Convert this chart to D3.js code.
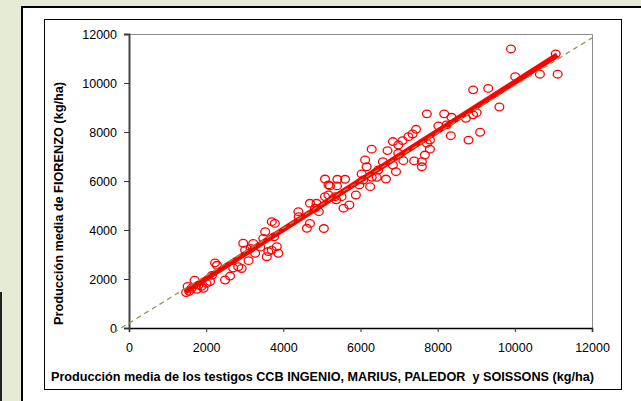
<!DOCTYPE html>
<html>
<head>
<meta charset="utf-8">
<script src="https://cdn.jsdelivr.net/npm/d3@7"></script>
<style>
  body { margin: 0; background: #e5ebd5; }
  svg { display: block; font-family: Arial, "Liberation Sans", sans-serif; }
</style>
</head>
<body>
<div id="chart"></div>
<script>
// Producción media de los testigos (eje X) y de FIORENZO (eje Y), kg/ha
var testigos = [1480, 1520, 1560, 1620, 1700, 1760, 1800, 1880, 1930, 2010, 2100, 2150, 2230, 2280, 2490,
                2620, 2700, 2830, 2920, 2960, 3010, 3100, 3150, 3220, 3270, 3400, 3480, 3530, 3570, 3610,
                3700, 3700, 3780, 3830, 3870, 3760, 4390, 4400, 4610, 4690, 4690, 4820, 4860, 4920, 5050,
                5080, 5170, 5080, 5170, 5210, 5340, 5370, 5390, 5400, 5510, 5560, 5600, 5710, 5880, 5970,
                6030, 6070, 6120, 6160, 6250, 6290, 6290, 6420, 6460, 6580, 6660, 6700, 6840, 6840, 6920,
                6980, 6980, 7090, 7110, 7240, 7350, 7390, 7440, 7590, 7590, 7670, 7720, 7720, 7800, 7800,
                8020, 8170, 8230, 8340, 8360, 8730, 8800, 8920, 9010, 8920, 9100, 9310, 9600, 9900, 10010,
                10650, 11060, 11110];
var fiorenzo = [1450, 1700, 1500, 1620, 1950, 1580, 1750, 1700, 1620, 1820, 1900, 2150, 2660, 2560, 1960,
                2120, 2450, 2500, 2430, 3460, 3180, 2750, 3250, 3450, 3050, 3300, 3660, 3930, 2910, 3120,
                4340, 3180, 4270, 3320, 3050, 3720, 4750, 4540, 4070, 4270, 5090, 4890, 5090, 4750, 4060,
                6080, 5840, 5360, 5430, 5800, 5360, 5230, 5800, 6070, 5360, 4890, 6070, 5020, 5430, 5840,
                6290, 6040, 6860, 6580, 5770, 7300, 6150, 6150, 6450, 6790, 6080, 7240, 7610, 6650, 6380,
                7470, 7130, 7650, 6830, 7810, 7920, 6820, 8110, 6790, 6580, 7060, 7540, 8740, 7300, 7670,
                8250, 8740, 8290, 7850, 8600, 8560, 7670, 8700, 8790, 9720, 7990, 9780, 9020, 11390, 10260,
                10360, 11190, 10360];

// recta de ajuste (roja) y recta de tendencia extendida (discontinua)
var ajusteX = [1450, 11100];
var ajusteY = [1470, 11140];
var tendenciaX = [-400, 12000];
var tendenciaY = [-190, 11840];

var ticksX = [0, 2000, 4000, 6000, 8000, 10000, 12000];
var ticksY = [0, 2000, 4000, 6000, 8000, 10000, 12000];

var W = 641, H = 401;
var plot = {left: 129, right: 592, top: 34, bottom: 328};

var svg = d3.select("#chart").append("svg")
    .attr("width", W)
    .attr("height", H);

// marcos
svg.append("rect")
    .attr("x", 22).attr("y", 7)
    .attr("width", 640).attr("height", 420)
    .attr("fill", "#fff")
    .attr("stroke", "#000")
    .attr("stroke-width", 2);
svg.append("line")
    .attr("x1", 1).attr("x2", 1).attr("y1", 292).attr("y2", H)
    .attr("stroke", "#222").attr("stroke-width", 2);
svg.append("rect")
    .attr("x", 44.5).attr("y", 19.5)
    .attr("width", 577).attr("height", 370)
    .attr("fill", "none")
    .attr("stroke", "#000");

var x = d3.scaleLinear().domain([0, 12000]).range([plot.left, plot.right]);
var y = d3.scaleLinear().domain([0, 12000]).range([plot.bottom, plot.top]);

// borde del área de trazado
svg.append("path")
    .attr("d", "M" + plot.left + "," + (plot.top + 0.5) + "H" + (plot.right + 0.5) + "V" + plot.bottom)
    .attr("fill", "none")
    .attr("stroke", "#8c8c8c");

// ejes
var ejeX = svg.append("g")
    .attr("transform", "translate(0," + plot.bottom + ")")
    .call(d3.axisBottom(x).tickValues(ticksX).tickSize(4).tickPadding(11).tickFormat(d3.format("d")));
ejeX.select(".domain").attr("stroke", "#000").attr("stroke-width", 1.5);

var ejeY = svg.append("g")
    .attr("transform", "translate(" + plot.left + ",0)")
    .call(d3.axisLeft(y).tickValues(ticksY).tickSize(5).tickPadding(7).tickFormat(d3.format("d")));
ejeY.select(".domain").attr("stroke", "#444").attr("stroke-width", 2);

svg.selectAll(".tick line").attr("stroke", "#333");
svg.selectAll(".tick text")
    .attr("font-family", "Arial, 'Liberation Sans', sans-serif")
    .attr("font-size", 12.5)
    .attr("fill", "#000");

// puntos
var puntos = d3.zip(testigos, fiorenzo);
svg.append("g").selectAll("ellipse")
    .data(puntos)
    .enter().append("ellipse")
    .attr("cx", function(d) { return x(d[0]); })
    .attr("cy", function(d) { return y(d[1]); })
    .attr("rx", 4.4)
    .attr("ry", 3.8)
    .attr("fill", "none")
    .attr("stroke", "#ff0000")
    .attr("stroke-width", 1.3);

// recta roja
svg.append("line")
    .attr("x1", x(ajusteX[0])).attr("y1", y(ajusteY[0]))
    .attr("x2", x(ajusteX[1])).attr("y2", y(ajusteY[1]))
    .attr("stroke", "#ff0000")
    .attr("stroke-width", 5.5);

// recta discontinua
svg.append("line")
    .attr("x1", x(tendenciaX[0])).attr("y1", y(tendenciaY[0]))
    .attr("x2", x(tendenciaX[1])).attr("y2", y(tendenciaY[1]))
    .attr("stroke", "#8a9a4a")
    .attr("stroke-width", 1.3)
    .attr("stroke-dasharray", "5,4");

// títulos
svg.append("text")
    .attr("x", 51).attr("y", 381)
    .attr("font-size", 12).attr("font-weight", "bold")
    .attr("textLength", 543).attr("lengthAdjust", "spacingAndGlyphs")
    .text("Producción media de los testigos CCB INGENIO, MARIUS, PALEDOR\u00a0 y SOISSONS (kg/ha)");

svg.append("text")
    .attr("transform", "translate(63,325) rotate(-90)")
    .attr("font-size", 12).attr("font-weight", "bold")
    .attr("textLength", 243).attr("lengthAdjust", "spacingAndGlyphs")
    .text("Producción media de FIORENZO (kg/ha)");
</script>
</body>
</html>
